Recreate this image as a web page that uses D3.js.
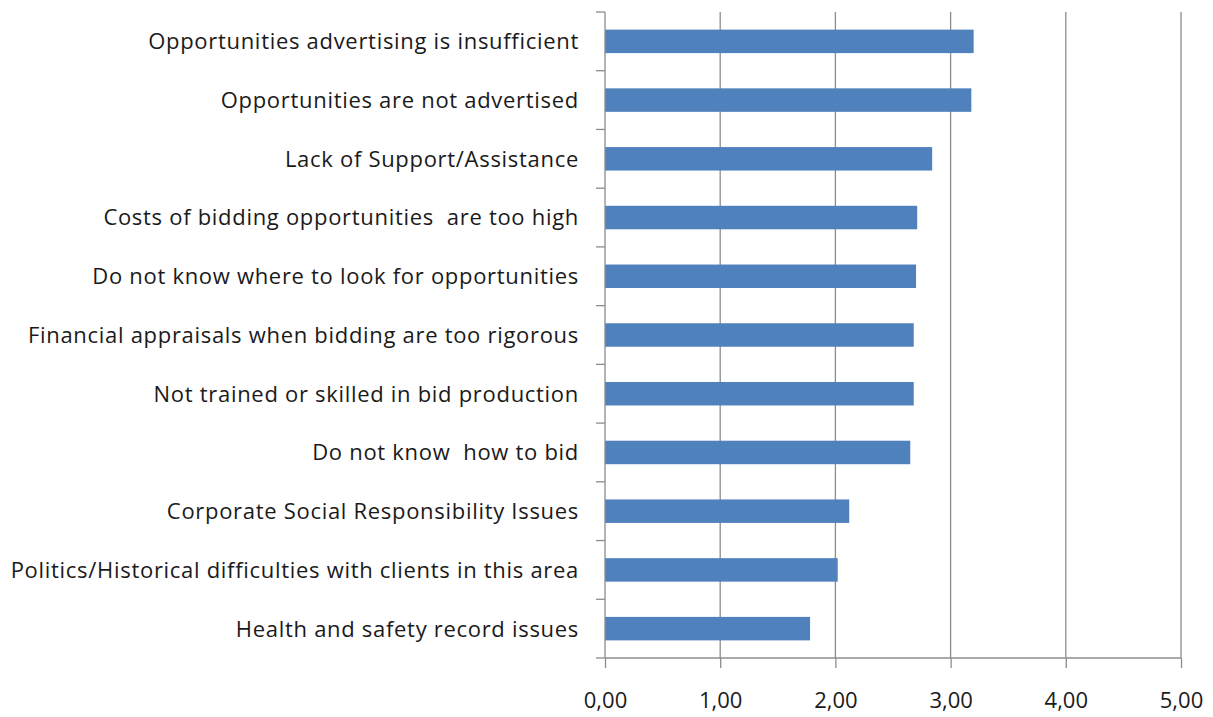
<!DOCTYPE html>
<html>
<head>
<meta charset="utf-8">
<script src="https://cdn.jsdelivr.net/npm/d3@7"></script>
<style>
  html, body { margin: 0; padding: 0; background: #fff; }
  svg { display: block; }
  text { font-variant-ligatures: none; }
</style>
</head>
<body>
<svg id="chart" width="1213" height="717"></svg>
<script>
const categories = [
  "Opportunities advertising is insufficient",
  "Opportunities are not advertised",
  "Lack of Support/Assistance",
  "Costs of bidding opportunities  are too high",
  "Do not know where to look for opportunities",
  "Financial appraisals when bidding are too rigorous",
  "Not trained or skilled in bid production",
  "Do not know  how to bid",
  "Corporate Social Responsibility Issues",
  "Politics/Historical difficulties with clients in this area",
  "Health and safety record issues"
];
const values = [3.20, 3.18, 2.84, 2.71, 2.70, 2.68, 2.68, 2.65, 2.12, 2.02, 1.78];
const xTicks = [0, 1, 2, 3, 4, 5];
const xTickLabels = ["0,00", "1,00", "2,00", "3,00", "4,00", "5,00"];

const svg = d3.select("#chart");
const mLeft = 605, mRight = 1181, mTop = 12, mBottom = 658;
const axisColor = "#8c8c8c";
const fontFamily = "'Open Sans', 'Noto Sans', sans-serif";

const x = d3.scaleLinear().domain([0, 5]).range([mLeft, mRight]);
const y = d3.scaleBand().domain(categories).range([mTop, mBottom]).paddingInner(0.6).paddingOuter(0.3);

// gridlines
svg.append("g").selectAll("line").data(xTicks.slice(1)).join("line")
  .attr("x1", d => x(d)).attr("x2", d => x(d))
  .attr("y1", mTop).attr("y2", mBottom)
  .attr("stroke", axisColor).attr("stroke-width", 1.3);

// bars
svg.append("g").selectAll("rect").data(values).join("rect")
  .attr("x", x(0))
  .attr("y", (d, i) => y(categories[i]))
  .attr("width", d => x(d) - x(0))
  .attr("height", y.bandwidth())
  .attr("fill", "#4F81BD");

// x axis
const xAxis = d3.axisBottom(x).tickValues(xTicks)
  .tickFormat((d, i) => xTickLabels[i]).tickSize(10).tickPadding(24);
const gx = svg.append("g").attr("transform", `translate(0,${mBottom})`).call(xAxis);
gx.select(".domain").attr("stroke", axisColor).attr("stroke-width", 1.3)
  .attr("d", `M${mLeft},0H${mRight}`);
gx.selectAll(".tick line").attr("stroke", axisColor).attr("stroke-width", 1.3);
gx.selectAll(".tick text").attr("font-family", fontFamily)
  .attr("font-size", 22).attr("fill", "#1a1a1a");

// y axis
const bandStep = (mBottom - mTop) / categories.length;
const yBoundaries = d3.range(categories.length + 1).map(i => mTop + i * bandStep);
svg.append("line").attr("x1", mLeft).attr("x2", mLeft).attr("y1", mTop).attr("y2", mBottom)
  .attr("stroke", axisColor).attr("stroke-width", 1.3);
svg.append("g").selectAll("line").data(yBoundaries).join("line")
  .attr("x1", mLeft - 9).attr("x2", mLeft).attr("y1", d => d).attr("y2", d => d)
  .attr("stroke", axisColor).attr("stroke-width", 1.3);

svg.append("g").selectAll("text").data(categories).join("text")
  .attr("x", 579)
  .attr("y", d => y(d) + y.bandwidth() / 2)
  .attr("dy", "0.36em")
  .attr("text-anchor", "end")
  .attr("font-family", fontFamily)
  .attr("font-size", 22)
  .attr("letter-spacing", 0.7)
  .attr("fill", "#1a1a1a")
  .style("white-space", "pre")
  .text(d => d);
</script>
</body>
</html>
